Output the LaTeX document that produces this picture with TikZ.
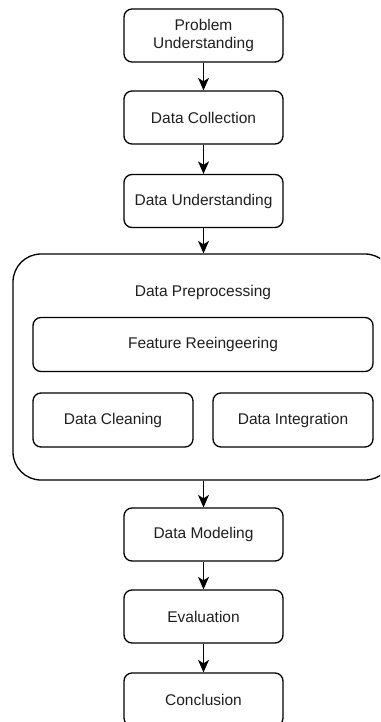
\documentclass[tikz,border=0pt]{standalone}
\usepackage{fontspec}
\setmainfont{Liberation Sans}
\usetikzlibrary{arrows.meta}
\definecolor{textgray}{HTML}{1F1F1F}
\tikzset{
  stepbox/.style={draw=black, line width=1.3pt, rounded corners=8pt, fill=white,
    minimum width=159pt, minimum height=53pt, inner sep=0pt, align=center,
    text=textgray, font=\fontsize{15.5pt}{18pt}\selectfont},
  groupbox/.style={draw=black, line width=1.3pt, rounded corners=28pt,
    minimum width=380pt, minimum height=226pt, inner sep=0pt},
  subbox/.style={stepbox, minimum height=54pt},
  flow/.style={draw=black, line width=1.3pt,
    -{Stealth[length=12.5pt, width=11pt, inset=3.5pt]}},
  label/.style={text=textgray, font=\fontsize{15.5pt}{18pt}\selectfont, inner sep=0pt}
}
\begin{document}
\begin{tikzpicture}[x=1pt, y=-1pt]
  \useasboundingbox (0,0) rectangle (380,722);
  \clip (0,0) rectangle (380,722);

  % main sequence of steps
  \node[stepbox] (problem) at (203.5,35.5) {Problem\\Understanding};
  \node[stepbox] (collect) at (203.5,117.5) {Data Collection};
  \node[stepbox] (underst) at (203.5,201) {Data Understanding};

  % preprocessing group with its sub-steps
  \node[groupbox] (prep) at (203,367) {};
  \node[label] (preptitle) at (203,292) {Data Preprocessing};
  \node[subbox, minimum width=340pt] (feature) at (203,344.5) {Feature Reeingeering};
  \node[subbox, minimum width=160pt] (clean) at (113,420) {Data Cleaning};
  \node[subbox, minimum width=160pt] (integr) at (293,420) {Data Integration};

  \node[stepbox] (model) at (203.5,534.5) {Data Modeling};
  \node[stepbox] (eval) at (203.5,616.5) {Evaluation};
  \node[stepbox] (concl) at (203.5,699.5) {Conclusion};

  % connectors
  \draw[flow] (problem) -- (collect);
  \draw[flow] (collect) -- (underst);
  \draw[flow] (underst.south) -- (underst.south |- prep.north);
  \draw[flow] (model.north |- prep.south) -- (model.north);
  \draw[flow] (model) -- (eval);
  \draw[flow] (eval) -- (concl);
\end{tikzpicture}
\end{document}
